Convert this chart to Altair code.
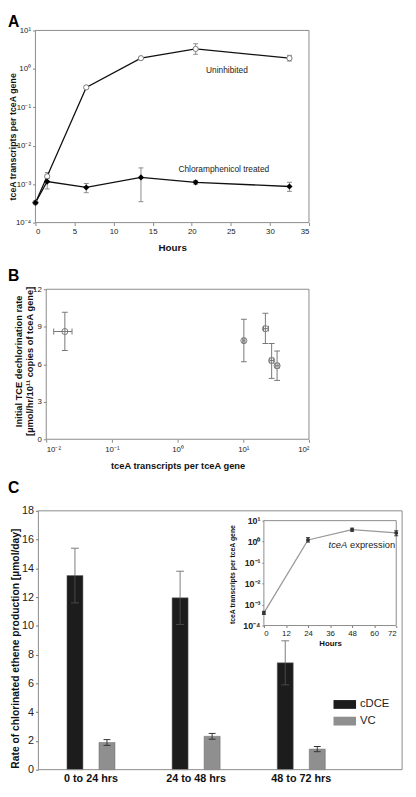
import altair as alt
import pandas as pd

W, H = 408, 789
FONT = "Arial, Liberation Sans, sans-serif"

# ---------------- Panel A data ----------------
a_hours = [0, 1.5, 6.5, 13.5, 20.5, 32.5]
a_unin = [3.3e-4, 1.6e-3, 0.33, 1.9, 3.3, 1.9]
a_unin_lo = [3.3e-4, 1.2e-3, 0.31, 1.8, 2.4, 1.6]
a_unin_hi = [3.3e-4, 2.0e-3, 0.36, 2.0, 4.5, 2.25]
a_chl = [3.3e-4, 1.17e-3, 8.2e-4, 1.5e-3, 1.12e-3, 8.7e-4]
a_chl_lo = [3.3e-4, 7.5e-4, 6.0e-4, 3.5e-4, 1.0e-3, 6.5e-4]
a_chl_hi = [3.3e-4, 1.4e-3, 1.04e-3, 2.65e-3, 1.25e-3, 1.12e-3]

# ---------------- Panel B data ----------------
b_x = [0.0192, 10.2, 21.7, 27.0, 32.7]
b_x_lo = [0.013, 9.8, 20.3, 25.3, 30.7]
b_x_hi = [0.0247, 10.6, 24.1, 29.0, 35.0]
b_y = [8.62, 7.89, 8.85, 6.30, 5.88]
b_y_lo = [7.10, 6.20, 7.66, 4.87, 4.71]
b_y_hi = [10.16, 9.60, 10.08, 7.66, 7.06]

# ---------------- Panel C data ----------------
periods = ["0 to 24 hrs", "24 to 48 hrs", "48 to 72 hrs"]
series_names = ["cDCE", "VC"]
cdce = [13.5, 11.95, 7.43]
cdce_err = [1.9, 1.85, 1.53]
vc = [1.89, 2.32, 1.43]
vc_err = [0.2, 0.2, 0.18]

# inset
ins_hours = [0, 24, 48, 72]
ins_val = [4.0e-4, 1.2, 3.7, 2.6]
ins_lo = [3.4e-4, 0.95, 3.1, 1.9]
ins_hi = [4.8e-4, 1.55, 4.4, 3.3]

SUP = {-4: "⁻⁴", -3: "⁻³", -2: "⁻²", -1: "⁻¹", 0: "⁰", 1: "¹", 2: "²"}


def log_label_expr(exps):
    parts = [f"round(log(datum.value)/LN10) == {e} ? '10{SUP[e]}'" for e in exps]
    return " : ".join(parts) + " : ''"


one = pd.DataFrame({"k": [0]})
layers = []

# ================= Panel A =================
dfA_u = pd.DataFrame({"hours": a_hours, "v": a_unin, "lo": a_unin_lo, "hi": a_unin_hi})
dfA_c = pd.DataFrame({"hours": a_hours, "v": a_chl, "lo": a_chl_lo, "hi": a_chl_hi})

xA = alt.Scale(domain=[0, 35], range=[28, 307], nice=False, zero=False)
yA = alt.Scale(type="log", domain=[1e-4, 10], range=[211, 15], nice=False)

axA_x = alt.Axis(orient="bottom", offset=211 - H, values=list(range(0, 36, 5)), domain=False,
                 grid=False, tickSize=3, tickColor="#888", labelFontSize=8, labelColor="#222",
                 labelPadding=2, title="Hours", titleFontSize=10, titleFontWeight="bold",
                 titleX=167.5, titleY=25, titleBaseline="middle", titleColor="#111")
axA_y = alt.Axis(orient="left", offset=-28, values=[1e-4, 1e-3, 1e-2, 1e-1, 1, 10],
                 labelExpr=log_label_expr([-4, -3, -2, -1, 0, 1]), domain=False, grid=False,
                 tickSize=3, tickColor="#888", labelFontSize=8, labelColor="#222", labelPadding=2,
                 title="tceA transcripts per tceA gene", titleFontSize=9, titleFontWeight="bold",
                 titleAngle=-90, titleX=-23, titleY=123, titleBaseline="middle", titleAlign="center",
                 titleColor="#111")


def err_layers(df, xs, ys, xfield, color, cap):
    rule = alt.Chart(df).mark_rule(color=color, strokeWidth=1).encode(
        x=alt.X(f"{xfield}:Q", scale=xs, axis=None),
        y=alt.Y("lo:Q", scale=ys, axis=None), y2="hi:Q")
    lo = alt.Chart(df).mark_tick(orient="horizontal", size=cap, thickness=1, color=color, opacity=1).encode(
        x=alt.X(f"{xfield}:Q", scale=xs, axis=None), y=alt.Y("lo:Q", scale=ys, axis=None))
    hi = alt.Chart(df).mark_tick(orient="horizontal", size=cap, thickness=1, color=color, opacity=1).encode(
        x=alt.X(f"{xfield}:Q", scale=xs, axis=None), y=alt.Y("hi:Q", scale=ys, axis=None))
    return [rule, lo, hi]


frameA = alt.Chart(one).mark_rect(fillOpacity=0, stroke="#8a8a8a", strokeWidth=1).encode(
    x=alt.XDatum(0, type="quantitative", scale=xA, axis=None),
    x2=alt.X2Datum(35),
    y=alt.YDatum(1e-4, type="quantitative", scale=yA, axis=None),
    y2=alt.Y2Datum(10),
)
layers.append(frameA)
layers += err_layers(dfA_u, xA, yA, "hours", "#8a8a8a", 5) + err_layers(dfA_c, xA, yA, "hours", "#8a8a8a", 5)
layers.append(alt.Chart(dfA_u).mark_line(color="#111", strokeWidth=1.3).encode(
    x=alt.X("hours:Q", scale=xA, axis=axA_x), y=alt.Y("v:Q", scale=yA, axis=axA_y)))
layers.append(alt.Chart(dfA_c).mark_line(color="#111", strokeWidth=1.3).encode(
    x=alt.X("hours:Q", scale=xA, axis=None), y=alt.Y("v:Q", scale=yA, axis=None)))
layers.append(alt.Chart(dfA_u).mark_point(shape="circle", filled=True, fill="white", stroke="#777",
                                          strokeWidth=1, size=28, opacity=1).encode(
    x=alt.X("hours:Q", scale=xA, axis=None), y=alt.Y("v:Q", scale=yA, axis=None)))
layers.append(alt.Chart(dfA_c).mark_point(shape="diamond", filled=True, color="#000", size=40, opacity=1).encode(
    x=alt.X("hours:Q", scale=xA, axis=None), y=alt.Y("v:Q", scale=yA, axis=None)))
layers.append(alt.Chart(one).mark_text(text="Uninhibited", fontSize=8.5, font=FONT, color="#222").encode(
    x=alt.XDatum(24.5, scale=xA, axis=None), y=alt.YDatum(0.95, scale=yA, axis=None)))
layers.append(alt.Chart(one).mark_text(text="Chloramphenicol treated", fontSize=8.5, font=FONT, color="#222").encode(
    x=alt.XDatum(24.1, scale=xA, axis=None), y=alt.YDatum(2.5e-3, scale=yA, axis=None)))

# ================= Panel B =================
dfB = pd.DataFrame({"t": b_x, "tlo": b_x_lo, "thi": b_x_hi, "rate": b_y, "lo": b_y_lo, "hi": b_y_hi})
xB = alt.Scale(type="log", domain=[0.01, 100], range=[39, 307], nice=False)
yB = alt.Scale(domain=[0, 12], range=[432, 279], nice=False, zero=False)

axB_x = alt.Axis(orient="bottom", offset=432 - H, values=[0.01, 0.1, 1, 10, 100],
                 labelExpr=log_label_expr([-2, -1, 0, 1, 2]), domain=False, grid=False,
                 tickSize=3, tickColor="#888", labelFontSize=8, labelColor="#222", labelPadding=3,
                 title="tceA transcripts per tceA gene", titleFontSize=9.5, titleFontWeight="bold",
                 titleX=173, titleY=27, titleBaseline="middle", titleColor="#111")
axB_y = alt.Axis(orient="left", offset=-39, values=[0, 3, 6, 9, 12], domain=False, grid=False,
                 tickSize=3, tickColor="#888", labelFontSize=8, labelColor="#222", labelPadding=2,
                 title=["Initial TCE dechlorination rate", "[µmol/hr/10¹¹ copies of tceA gene]"],
                 titleFontSize=9.5, titleFontWeight="bold", titleLineHeight=11, titleAngle=-90,
                 titleX=-28.5, titleY=352, titleBaseline="middle", titleAlign="center", titleColor="#111")

layers.append(alt.Chart(one).mark_rect(fillOpacity=0, stroke="#8a8a8a", strokeWidth=1).encode(
    x=alt.XDatum(0.01, type="quantitative", scale=xB, axis=None),
    x2=alt.X2Datum(100),
    y=alt.YDatum(0, type="quantitative", scale=yB, axis=None),
    y2=alt.Y2Datum(12),
))
layers += err_layers(dfB, xB, yB, "t", "#777", 6)
layers.append(alt.Chart(dfB).mark_rule(color="#777", strokeWidth=1).encode(
    x=alt.X("tlo:Q", scale=xB, axis=None), x2="thi:Q", y=alt.Y("rate:Q", scale=yB, axis=None)))
layers.append(alt.Chart(dfB).mark_tick(orient="vertical", size=6, thickness=1, color="#777", opacity=1).encode(
    x=alt.X("tlo:Q", scale=xB, axis=None), y=alt.Y("rate:Q", scale=yB, axis=None)))
layers.append(alt.Chart(dfB).mark_tick(orient="vertical", size=6, thickness=1, color="#777", opacity=1).encode(
    x=alt.X("thi:Q", scale=xB, axis=None), y=alt.Y("rate:Q", scale=yB, axis=None)))
layers.append(alt.Chart(dfB).mark_point(shape="circle", filled=False, stroke="#777", strokeWidth=1,
                                        size=38, opacity=1).encode(
    x=alt.X("t:Q", scale=xB, axis=axB_x), y=alt.Y("rate:Q", scale=yB, axis=axB_y)))

# ================= Panel C =================
dfC = pd.DataFrame({
    "period": periods * 2,
    "series": ["cDCE"] * 3 + ["VC"] * 3,
    "rate": cdce + vc,
    "err": cdce_err + vc_err,
})
dfC["lo"] = dfC["rate"] - dfC["err"]
dfC["hi"] = dfC["rate"] + dfC["err"]

xC = alt.Scale(domain=periods, range=[31, 352.75], paddingInner=0.543, paddingOuter=0.2715)
yC = alt.Scale(domain=[0, 18], range=[769, 505], nice=False, zero=False)
xoffC = alt.Scale(domain=series_names, paddingInner=0.5, paddingOuter=0)

axC_x = alt.Axis(orient="bottom", offset=769 - H, domain=False, ticks=False, grid=False,
                 labelFontSize=11, labelFontWeight="bold", labelColor="#111", labelPadding=3,
                 labelAngle=0, title=None)
axC_y = alt.Axis(orient="left", offset=-31, values=list(range(0, 19, 2)), domain=False, grid=False,
                 tickSize=3, tickColor="#777", labelFontSize=11, labelColor="#222", labelPadding=2,
                 title="Rate of chlorinated ethene production [µmol/day]", titleFontSize=10.5,
                 titleFontWeight="bold", titleAngle=-90, titleX=-23.5, titleY=645,
                 titleBaseline="middle", titleAlign="center", titleColor="#111")

colC = alt.Color("series:N", scale=alt.Scale(domain=series_names, range=["#1c1c1c", "#8f8f8f"]),
                 legend=alt.Legend(orient="none", legendX=332, legendY=691, title=None,
                                   symbolType="M-1,-0.39H1V0.39H-1Z", symbolSize=529,
                                   symbolStrokeWidth=0, symbolOpacity=1, labelFontSize=11.5,
                                   labelFont=FONT, labelColor="#222", labelOffset=4, rowPadding=-9))

layers.append(alt.Chart(dfC).mark_bar(stroke="#666", strokeWidth=0.5).encode(
    x=alt.X("period:N", scale=xC, axis=axC_x, sort=periods),
    xOffset=alt.XOffset("series:N", scale=xoffC, sort=series_names),
    y=alt.Y("rate:Q", scale=yC, axis=axC_y),
    color=colC,
))


def c_err(sname, upcol, lowcol, cap):
    base = alt.Chart(dfC).transform_filter(alt.datum.series == sname)

    def ex():
        return dict(x=alt.X("period:N", scale=xC, axis=None, sort=periods),
                    xOffset=alt.XOffset("series:N", scale=xoffC, sort=series_names))
    up = base.mark_rule(color=upcol, strokeWidth=1).encode(
        **ex(), y=alt.Y("rate:Q", scale=yC, axis=None), y2="hi:Q")
    low = base.mark_rule(color=lowcol, strokeWidth=1).encode(
        **ex(), y=alt.Y("lo:Q", scale=yC, axis=None), y2="rate:Q")
    caphi = base.mark_tick(orient="horizontal", size=cap, thickness=1, color=upcol, opacity=1).encode(
        **ex(), y=alt.Y("hi:Q", scale=yC, axis=None))
    caplo = base.mark_tick(orient="horizontal", size=cap, thickness=1, color=lowcol, opacity=1).encode(
        **ex(), y=alt.Y("lo:Q", scale=yC, axis=None))
    return [up, low, caphi, caplo]


layers += c_err("cDCE", "#7a7a7a", "#4a4a4a", 8) + c_err("VC", "#333", "#333", 7)

layers.append(alt.Chart(one).mark_rect(fillOpacity=0, stroke="#8a8a8a", strokeWidth=1).encode(
    x=alt.value(31), x2=alt.value(402),
    y=alt.YDatum(0, type="quantitative", scale=yC, axis=None), y2=alt.Y2Datum(18)))

# ================= Inset =================
dfI = pd.DataFrame({"hours": ins_hours, "v": ins_val, "lo": ins_lo, "hi": ins_hi})
xI = alt.Scale(domain=[0, 72], range=[261, 396], nice=False, zero=False)
yI = alt.Scale(type="log", domain=[1e-4, 10], range=[622, 515], nice=False)

axI_x = alt.Axis(orient="bottom", offset=622 - H, values=list(range(0, 73, 12)), domain=False,
                 grid=False, tickSize=2, tickColor="#777", labelFontSize=8, labelColor="#222",
                 labelPadding=2, title="Hours", titleFontSize=8, titleFontWeight="bold",
                 titleX=328.5, titleY=18, titleBaseline="middle", titleColor="#111")
axI_y = alt.Axis(orient="left", offset=-261, values=[1e-4, 1e-3, 1e-2, 1e-1, 1, 10],
                 labelExpr=log_label_expr([-4, -3, -2, -1, 0, 1]), domain=False, grid=False,
                 tickSize=2, tickColor="#777", labelFontSize=9, labelFontWeight="bold",
                 labelColor="#222", labelPadding=2,
                 title="tceA transcripts per tceA gene", titleFontSize=7, titleFontWeight="bold",
                 titleAngle=-90, titleX=-31.5, titleY=569.5, titleBaseline="middle",
                 titleAlign="center", titleColor="#111")

layers.append(alt.Chart(one).mark_rect(fill="white", stroke="#8a8a8a", strokeWidth=1).encode(
    x=alt.XDatum(0, type="quantitative", scale=xI, axis=None),
    x2=alt.X2Datum(72),
    y=alt.YDatum(1e-4, type="quantitative", scale=yI, axis=None),
    y2=alt.Y2Datum(10),
))
layers.append(alt.Chart(dfI).mark_line(color="#999", strokeWidth=1.3).encode(
    x=alt.X("hours:Q", scale=xI, axis=axI_x), y=alt.Y("v:Q", scale=yI, axis=axI_y)))
layers += err_layers(dfI, xI, yI, "hours", "#333", 4)
layers.append(alt.Chart(dfI).mark_point(shape="circle", filled=True, color="#333", size=16, opacity=1).encode(
    x=alt.X("hours:Q", scale=xI, axis=None), y=alt.Y("v:Q", scale=yI, axis=None)))
layers.append(alt.Chart(one).mark_text(text="tceA", fontSize=9.5, fontStyle="italic", font=FONT,
                                       color="#222", align="right").encode(
    x=alt.XDatum(45.3, scale=xI, axis=None), y=alt.YDatum(0.68, scale=yI, axis=None)))
layers.append(alt.Chart(one).mark_text(text="expression", fontSize=9.5, font=FONT, color="#222",
                                       align="left", dx=3).encode(
    x=alt.XDatum(45.3, scale=xI, axis=None), y=alt.YDatum(0.68, scale=yI, axis=None)))

# ================= Panel letters =================
for letter, ypos in [("A", 6.5), ("B", 265.5), ("C", 482)]:
    layers.append(alt.Chart(one).mark_text(text=letter, fontSize=16, fontWeight="bold", font=FONT,
                                           color="#000", align="left", baseline="middle").encode(
        x=alt.value(0), y=alt.value(ypos)))

chart = alt.layer(*layers).resolve_scale(
    x="independent", y="independent"
).properties(
    width=W, height=H, padding=0, autosize=alt.AutoSizeParams(type="none")
).configure(font=FONT).configure_view(stroke=None)

chart.save("out.html", embed_options={"renderer": "svg", "actions": False})
